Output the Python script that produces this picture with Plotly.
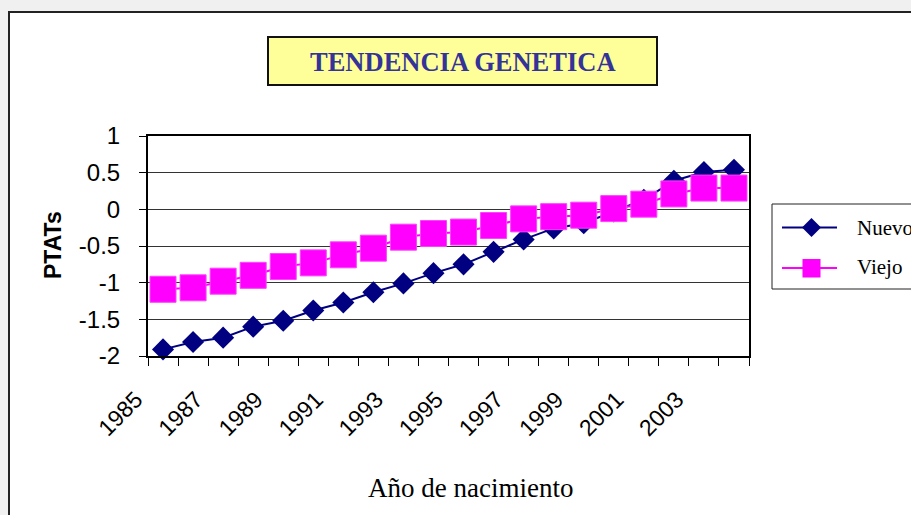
import plotly.graph_objects as go

# ---- data ----
years = list(range(1985, 2005))
nuevo = [-1.91, -1.81, -1.75, -1.60, -1.52, -1.38, -1.27, -1.13, -1.01, -0.87,
         -0.75, -0.58, -0.41, -0.26, -0.19, -0.03, 0.13, 0.39, 0.51, 0.54]
viejo = [-1.09, -1.07, -0.98, -0.90, -0.78, -0.73, -0.62, -0.53, -0.38, -0.33,
         -0.31, -0.22, -0.13, -0.10, -0.08, 0.01, 0.07, 0.21, 0.29, 0.29]
x_tick_years = years[::2]
x_tick_labels = [str(y) for y in x_tick_years]
y_tick_vals = [1, 0.5, 0, -0.5, -1, -1.5, -2]
y_tick_labels = ["1", "0.5", "0", "-0.5", "-1", "-1.5", "-2"]

W, H = 911, 515
L, R, T, B = 148, 749, 136, 356


def px(x):
    return (x - L) / (R - L)


def py(y):
    return (B - y) / (B - T)


fig = go.Figure()
fig.add_trace(go.Scatter(
    x=years, y=nuevo, name="Nuevo", mode="lines+markers",
    line=dict(color="#000080", width=2),
    marker=dict(symbol="diamond", size=17, color="#000080"),
    cliponaxis=False))
fig.add_trace(go.Scatter(
    x=years, y=viejo, name="Viejo", mode="lines+markers",
    line=dict(color="#FF00FF", width=2),
    marker=dict(symbol="square", size=26, color="#FF00FF",
                line=dict(color="#FF40FF", width=1)),
    cliponaxis=False))

shapes = []
# white chart area with border
shapes.append(dict(type="rect", xref="paper", yref="paper", layer="below",
                   x0=px(9), x1=px(930), y0=py(12), y1=py(530),
                   fillcolor="white", line=dict(color="#222222", width=2)))
# title box
shapes.append(dict(type="rect", xref="paper", yref="paper",
                   x0=px(268), x1=px(657), y0=py(37), y1=py(85),
                   fillcolor="#FFFF99", line=dict(color="#111111", width=2)))
# legend box
shapes.append(dict(type="rect", xref="paper", yref="paper",
                   x0=px(772), x1=px(930), y0=py(204), y1=py(289),
                   fillcolor="white", line=dict(color="#222222", width=1)))
# legend lines
for yy, col in [(227.5, "#000080"), (268, "#FF00FF")]:
    shapes.append(dict(type="line", xref="paper", yref="paper",
                       x0=px(782), x1=px(837), y0=py(yy), y1=py(yy),
                       line=dict(color=col, width=2)))
# legend diamond
cx, cy, r = 811.5, 227.5, 9.5
path = (f"M {px(cx - r)} {py(cy)} L {px(cx)} {py(cy - r)} "
        f"L {px(cx + r)} {py(cy)} L {px(cx)} {py(cy + r)} Z")
shapes.append(dict(type="path", xref="paper", yref="paper", path=path,
                   fillcolor="#000080", line=dict(color="#000080", width=0)))
# legend square
shapes.append(dict(type="rect", xref="paper", yref="paper",
                   x0=px(802.5), x1=px(820.5), y0=py(259), y1=py(277.5),
                   fillcolor="#FF00FF", line=dict(color="#FF00FF", width=0)))

annotations = [
    dict(text="<b>TENDENCIA GENETICA</b>", xref="paper", yref="paper",
         x=px(462.5), y=py(62), xanchor="center", yanchor="middle",
         showarrow=False,
         font=dict(family="Liberation Serif", size=26.5, color="#333399")),
    dict(text="<b>PTATs</b>", xref="paper", yref="paper",
         x=px(53), y=py(245), xanchor="center", yanchor="middle",
         textangle=-90, showarrow=False,
         font=dict(family="Liberation Sans", size=23, color="black")),
    dict(text="Año de nacimiento", xref="paper", yref="paper",
         x=px(470), y=py(488), xanchor="center", yanchor="middle",
         showarrow=False,
         font=dict(family="Liberation Serif", size=27, color="black")),
    dict(text="Nuevo", xref="paper", yref="paper",
         x=px(855), y=py(228), xanchor="left", yanchor="middle",
         showarrow=False,
         font=dict(family="Liberation Serif", size=21, color="black")),
    dict(text="Viejo", xref="paper", yref="paper",
         x=px(855), y=py(267), xanchor="left", yanchor="middle",
         showarrow=False,
         font=dict(family="Liberation Serif", size=21, color="black")),
]

fig.update_layout(
    width=W, height=H,
    margin=dict(l=L, r=W - R, t=T, b=H - B, autoexpand=False),
    paper_bgcolor="#f0f0f0", plot_bgcolor="white",
    showlegend=False,
    shapes=shapes, annotations=annotations,
    xaxis=dict(range=[1984.5, 2004.5], tickmode="array",
               tickvals=x_tick_years, ticktext=x_tick_labels,
               tickangle=-45, ticks="", showgrid=False, zeroline=False,
               showline=True, linecolor="black", linewidth=2, mirror=True,
               ticklabelstandoff=19, ticklabelshift=-27,
               tickfont=dict(family="Liberation Sans", size=23, color="black"),
               minor=dict(tick0=1984.5, dtick=1, ticks="outside", ticklen=8,
                          tickcolor="black", tickwidth=1, showgrid=False)),
    yaxis=dict(range=[-2, 1], tickmode="array", tickvals=y_tick_vals,
               ticktext=y_tick_labels, ticks="outside", ticklen=7,
               tickcolor="black", showgrid=True, gridcolor="#333333",
               gridwidth=1, zeroline=False, showline=True, linecolor="black",
               linewidth=2, mirror=True, ticklabelstandoff=14,
               tickfont=dict(family="Liberation Sans", size=24, color="black")),
)

fig.write_html("out.html", config={"displayModeBar": False},
               post_script="document.body.style.margin='0';")
